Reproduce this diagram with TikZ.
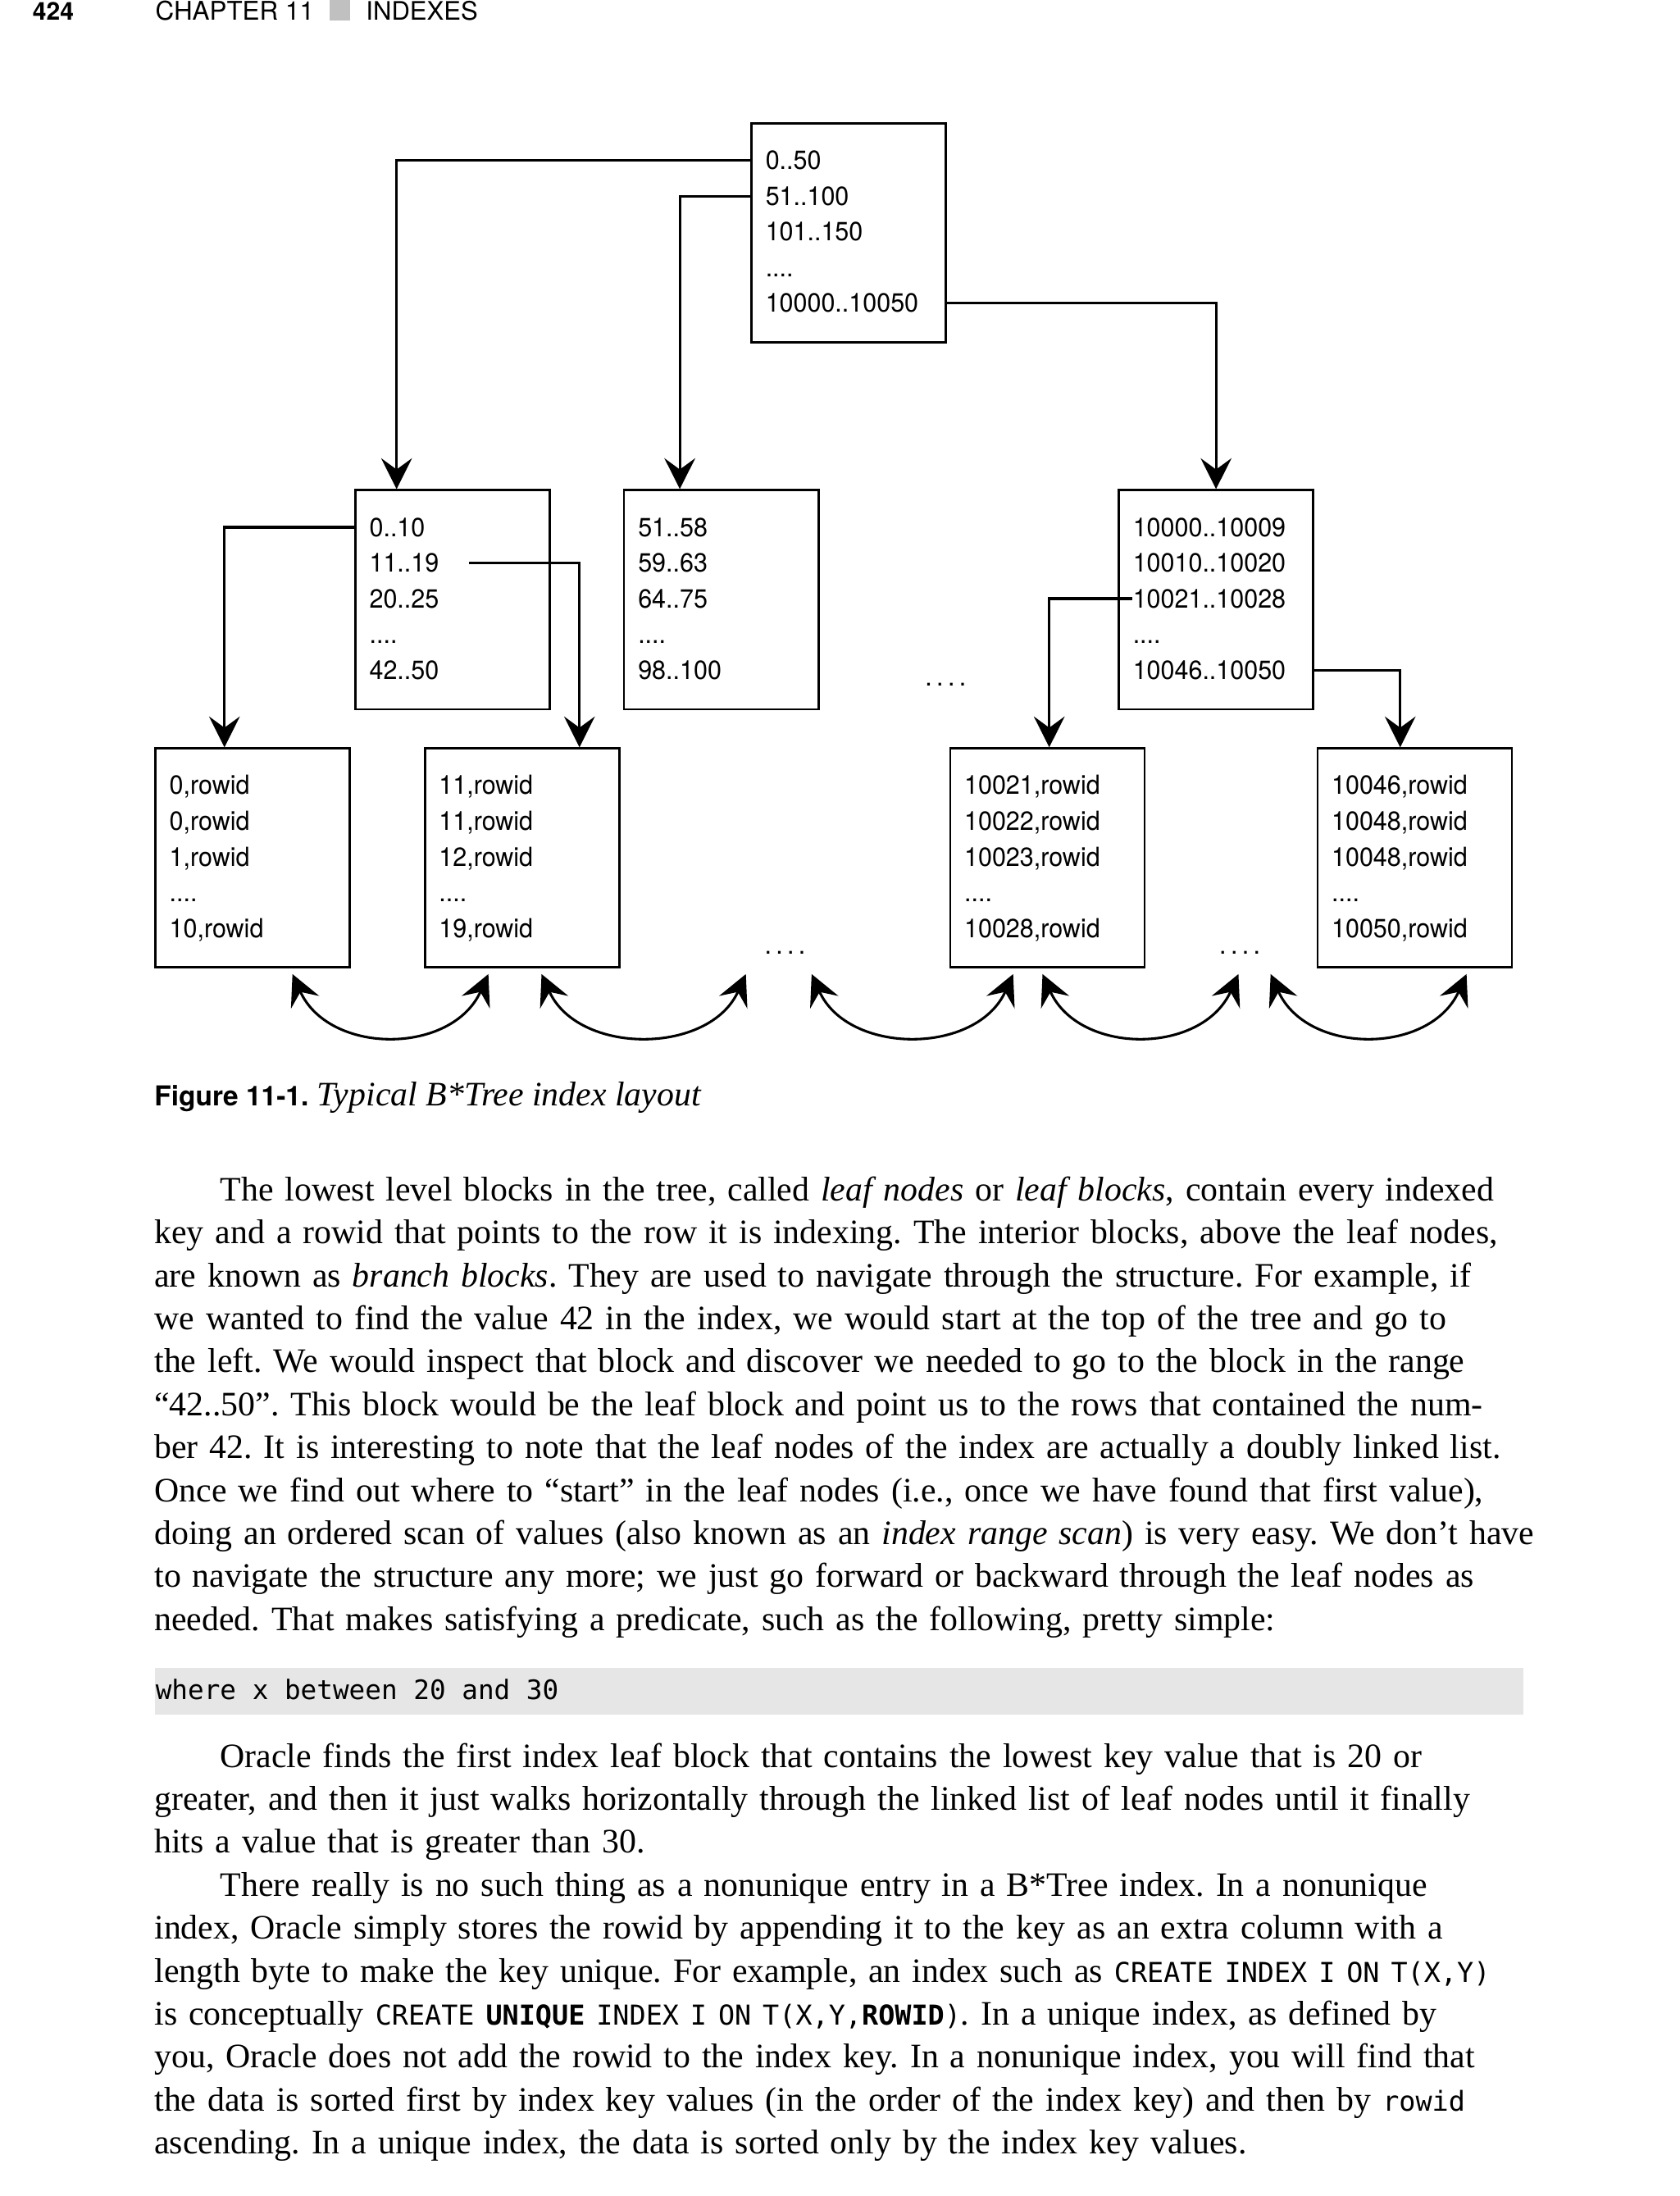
\documentclass[tikz,border=0pt]{standalone}
\usepackage{fontspec}
\usepackage{tikz}
\usetikzlibrary{arrows.meta}
\setmainfont{Liberation Serif}
\setsansfont{TeX Gyre Heros}
\setmonofont{DejaVu Sans Mono}[Scale=0.8]
\newfontfamily\figfont{TeX Gyre Heros}[FakeStretch=0.95]
\definecolor{codegray}{RGB}{230,230,230}
\definecolor{headgray}{RGB}{192,192,192}

% five rows of keys inside a block
\newcommand{\blockrows}[6]{%
  \node[row] (#1-1) at ([shift={(10.5,33.8)}]#1.north west) {#2};
  \node[row] (#1-2) at ([shift={(10.5,59.3)}]#1.north west) {#3};
  \node[row] (#1-3) at ([shift={(10.5,84.8)}]#1.north west) {#4};
  \node[row] (#1-4) at ([shift={(10.5,110.3)}]#1.north west) {#5};
  \node[row] (#1-5) at ([shift={(10.5,135.8)}]#1.north west) {#6};
}

\begin{document}
\frenchspacing
\begin{tikzpicture}[x=0.5pt,y=-0.5pt,
    block/.style={draw,line width=0.8pt,minimum width=69.5pt,minimum height=78.25pt,inner sep=0pt},
    row/.style={anchor=base west,inner sep=0pt,font=\figfont\fontsize{9.4}{11}\selectfont},
    link/.style={line width=0.9pt},
    body/.style={anchor=base west,inner sep=0pt,text width=520pt,align=left,
      font=\fontsize{12.25}{15.35}\selectfont},
    >={Stealth[length=11pt,width=11pt,inset=4pt]}]
    \useasboundingbox (0,0) rectangle (1200,1569.1);

    % running head
    \node[anchor=base west,inner sep=0pt,font=\sffamily\bfseries\fontsize{8.8}{10}\selectfont] (page) at (23,14.6) {424};
    \node[anchor=base west,inner sep=0pt,font=\sffamily\fontsize{9.2}{10}\selectfont] (chap) at (110.7,14.6) {CHAPTER 11};
    \fill[headgray] (235.7,0) rectangle (250,14.6);
    \node[anchor=base west,inner sep=0pt,font=\sffamily\fontsize{9.1}{10}\selectfont] (title) at (261.2,14.6) {INDEXES};

    % the tree
    \node[block] (root) at (606.5,166.4) {};
    \node[block] (b1) at (323.4,428.5) {};
    \node[block] (b2) at (515.4,428.5) {};
    \node[block] (b3) at (869,428.5) {};
    \node[block] (l1) at (180.5,613) {};
    \node[block] (l2) at (373.1,613) {};
    \node[block] (l3) at (748.5,613) {};
    \node[block] (l4) at (1011,613) {};
    \blockrows{root}{0..50}{51..100}{101..150}{....}{10000..10050}
    \blockrows{b1}{0..10}{11..19}{20..25}{....}{42..50}
    \blockrows{b2}{51..58}{59..63}{64..75}{....}{98..100}
    \blockrows{b3}{10000..10009}{10010..10020}{10021..10028}{....}{10046..10050}
    \blockrows{l1}{0,rowid}{0,rowid}{1,rowid}{....}{10,rowid}
    \blockrows{l2}{11,rowid}{11,rowid}{12,rowid}{....}{19,rowid}
    \blockrows{l3}{10021,rowid}{10022,rowid}{10023,rowid}{....}{10028,rowid}
    \blockrows{l4}{10046,rowid}{10048,rowid}{10048,rowid}{....}{10050,rowid}
    \node[row,anchor=base] (gap1) at (675.8,490) {.\,.\,.\,.};
    \node[row,anchor=base] (gap2) at (561,682) {.\,.\,.\,.};
    \node[row,anchor=base] (gap3) at (886,682) {.\,.\,.\,.};

    \draw[link,->] (root-1.west -| root.west) -| ([shift={(30.3,0)}]b1.north west);
    \draw[link,->] (root-2.west -| root.west) -| ([shift={(40.7,0)}]b2.north west);
    \draw[link,->] (root-5.west -| root.east) -| (b3.north);
    \draw[link,->] (b1-1.west -| b1.west) -| ([shift={(50.2,0)}]l1.north west);
    \draw[link,->] ([shift={(21,0)}]b1-2.east) -| ([shift={(111.3,0)}]l2.north west);
    \draw[link,->] (b3-3.west) -| ([shift={(71.6,0)}]l3.north west);
    \draw[link,->] (b3-5.west -| b3.east) -| ([shift={(59.9,0)}]l4.north west);

    % doubly linked leaves
    \foreach \a/\b [count=\i] in {209/349,387/533,580/724,745/885,908/1048} {
      \coordinate (p\i) at (\a,696);
      \coordinate (q\i) at (\b,696);
      \draw[link,<->] (p\i) .. controls +(26,58) and +(-26,58) .. (q\i);
    }

    % caption
    \node[anchor=base west,inner sep=0pt,font=\fontsize{12.25}{14}\selectfont] (cap) at (110,790)
      {{\sffamily\bfseries\fontsize{9.8}{12}\selectfont Figure 11-1.} \textit{Typical B*Tree index layout}};

    % text
    \node[body] (p1) at (110,858) {\hspace*{23.5pt}The lowest level blocks in the tree, called \textit{leaf nodes} or \textit{leaf blocks}, contain every indexed\\
key and a rowid that points to the row it is indexing. The interior blocks, above the leaf nodes,\\
are known as \textit{branch blocks}. They are used to navigate through the structure. For example, if\\
we wanted to find the value 42 in the index, we would start at the top of the tree and go to\\
the left. We would inspect that block and discover we needed to go to the block in the range\\
“42..50”. This block would be the leaf block and point us to the rows that contained the num-\\
ber 42. It is interesting to note that the leaf nodes of the index are actually a doubly linked list.\\
Once we find out where to “start” in the leaf nodes (i.e., once we have found that first value),\\
doing an ordered scan of values (also known as an \textit{index range scan}) is very easy. We don’t have\\
to navigate the structure any more; we just go forward or backward through the leaf nodes as\\
needed. That makes satisfying a predicate, such as the following, pretty simple:};

    \fill[codegray] (110.8,1192) rectangle (1088.4,1225);
    \node[anchor=base west,inner sep=0pt,font=\ttfamily\fontsize{11.96}{14}\selectfont] (code) at (110.8,1214.5) {where x between 20 and 30};

    \node[body] (p2) at (110,1262.7) {\hspace*{23.5pt}Oracle finds the first index leaf block that contains the lowest key value that is 20 or\\
greater, and then it just walks horizontally through the linked list of leaf nodes until it finally\\
hits a value that is greater than 30.\\
\hspace*{23.5pt}There really is no such thing as a nonunique entry in a B*Tree index. In a nonunique\\
index, Oracle simply stores the rowid by appending it to the key as an extra column with a\\
length byte to make the key unique. For example, an index such as \texttt{CREATE INDEX I ON T(X,Y)}\\
is conceptually \texttt{CREATE \textbf{UNIQUE} INDEX I ON T(X,Y,\textbf{ROWID})}. In a unique index, as defined by\\
you, Oracle does not add the rowid to the index key. In a nonunique index, you will find that\\
the data is sorted first by index key values (in the order of the index key) and then by \texttt{rowid}\\
ascending. In a unique index, the data is sorted only by the index key values.};
\end{tikzpicture}
\end{document}
